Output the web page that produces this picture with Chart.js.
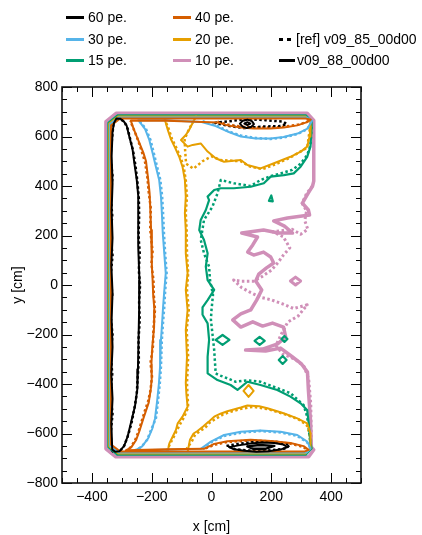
<!DOCTYPE html>
<html><head><meta charset="utf-8">
<script src="https://cdn.jsdelivr.net/npm/chart.js@4"></script>
<style>
html,body{margin:0;padding:0;background:#fff;}
#wrap{position:relative;width:422px;height:535px;}
canvas{position:absolute;left:0;top:0;}
.lg{position:absolute;font:14px "Liberation Sans",Arial,sans-serif;color:#000;line-height:16px;white-space:nowrap;}
.sw{position:absolute;}
</style></head><body>
<div id="wrap"><canvas id="c" width="422" height="535"></canvas><div id="legend"></div></div>
<script>
// ---------- axis ticks ----------
const xTicks = [-400,-200,0,200,400];
const yTicks = [-800,-600,-400,-200,0,200,400,600,800];
const levels = ['60 pe.','40 pe.','30 pe.','20 pe.','15 pe.','10 pe.'];
const versions = ['[ref] v09_85_00d00','v09_88_00d00'];

// ---------- v09_88_00d00 (solid) contours, [x cm, y cm] ----------
const c60_left = [[-332,-665],[-335,-560],[-331,-460],[-335,-360],[-331,-250],[-334,-140],[-331,-30],[-335,80],[-331,190],[-334,300],[-331,410],[-334,520],[-331,620],[-326,655],[-318,673],[-305,672],[-294,662],[-284,645],[-276,605],[-264,548],[-258,492],[-250,425],[-245,360],[-245,290],[-245,155],[-241,20],[-242,-100],[-244,-220],[-246,-340],[-248,-420],[-256,-490],[-270,-560],[-280,-610],[-292,-650],[-308,-672],[-322,-674],[-332,-665]];
const c60_top = [[95,652],[105,664],[120,668],[135,662],[142,650],[132,638],[118,634],[104,640],[95,652]];
const c60_topIn = [[110,652],[120,658],[130,652],[120,646],[110,652]];
const c60_bot = [[60,-655],[90,-648],[130,-640],[170,-636],[210,-638],[240,-645],[255,-655],[230,-665],[190,-672],[150,-674],[110,-670],[75,-664],[60,-655]];
const c60_botIn = [[120,-652],[160,-646],[210,-650],[180,-662],[140,-662],[120,-652]];

const c40_line = [[332,668],[315,656],[287,645],[242,636],[198,632],[142,632],[98,636],[53,645],[20,657],[-150,664],[-270,664],[-260,630],[-250,600],[-240,570],[-228,535],[-219,500],[-212,430],[-207,370],[-205,316],[-202,222],[-200,128],[-199,80],[-197,20],[-195,-40],[-191,-100],[-192,-170],[-198,-250],[-201,-320],[-200,-380],[-203,-420],[-210,-475],[-228,-540],[-241,-590],[-252,-626],[-268,-655],[-285,-668],[-150,-664],[-25,-662],[9,-642],[53,-631],[131,-625],[198,-630],[264,-638],[308,-651],[325,-666],[310,-673],[-305,-673],[-336,-645],[-336,645],[-305,673],[315,673],[332,668]];

const c30_line = [[336,664],[321,632],[288,612],[241,598],[198,592],[148,592],[98,600],[58,618],[14,642],[-36,659],[-150,666],[-245,666],[-222,630],[-208,586],[-197,533],[-186,478],[-175,424],[-169,357],[-166,291],[-163,210],[-158,129],[-153,48],[-158,-25],[-162,-90],[-165,-150],[-169,-222],[-172,-330],[-176,-400],[-182,-470],[-189,-540],[-198,-580],[-212,-620],[-232,-652],[-255,-668],[-150,-666],[-36,-662],[-2,-633],[42,-606],[98,-593],[164,-588],[231,-593],[287,-606],[320,-633],[331,-660],[318,-677],[-310,-677],[-339,-650],[-339,650],[-310,677],[318,677],[336,664]];

const c20_frame = [[331,600],[331,660],[314,681],[-312,681],[-342,652],[-342,-652],[-312,-681],[314,-681],[331,-660],[331,-600]];
const c20_left = [[-147,-676],[-141,-640],[-130,-613],[-119,-586],[-113,-559],[-97,-532],[-80,-492],[-84,-440],[-86,-396],[-82,-290],[-86,-182],[-80,-101],[-86,-20],[-80,48],[-86,128],[-86,222],[-89,290],[-86,357],[-89,424],[-97,478],[-108,518],[-122,555],[-136,590],[-147,630],[-158,676]];
const c20_top = [[-52,681],[-75,626],[-86,606],[-102,586],[-80,559],[-63,566],[-36,572],[-13,539],[14,512],[42,498],[98,505],[120,485],[164,471],[209,492],[264,518],[300,540],[320,559],[328,600],[331,640]];
const c20_bot = [[-80,-676],[-72,-625],[-60,-600],[-47,-590],[-28,-572],[-10,-553],[9,-532],[30,-520],[53,-510],[98,-495],[120,-487],[160,-490],[187,-498],[241,-518],[287,-539],[320,-559],[331,-599]];
const c20_diamond = [[107,-428],[124,-404],[141,-428],[124,-452],[107,-428]];

const c15_line = [[335,640],[331,559],[320,518],[298,478],[275,451],[242,444],[198,438],[175,411],[131,397],[75,391],[31,391],[9,384],[-13,357],[-8,343],[-19,303],[-36,263],[-41,222],[-25,182],[-13,128],[-19,74],[-13,20],[9,-20],[-13,-61],[-30,-90],[-30,-120],[-13,-155],[-8,-222],[-13,-290],[-13,-357],[20,-384],[64,-404],[87,-424],[120,-391],[164,-404],[220,-424],[264,-451],[298,-478],[320,-505],[325,-559],[331,-640],[335,-660],[316,-685],[-315,-685],[-345,-655],[-345,655],[-314,685],[316,685],[335,660],[335,640]];
const c15_d1 = [[14,-222],[37,-202],[60,-222],[37,-242],[14,-222]];
const c15_d2 = [[144,-226],[161,-210],[178,-226],[161,-242],[144,-226]];
const c15_d3 = [[234,-218],[244,-206],[254,-218],[244,-230],[234,-218]];
const c15_d4 = [[225,-303],[238,-287],[251,-303],[238,-319],[225,-303]];
const c15_tri = [[192,340],[200,362],[205,338],[192,340]];

const c10_line = [[338,400],[324,372],[304,331],[324,303],[328,283],[254,271],[208,259],[244,238],[271,210],[224,210],[174,222],[101,210],[154,194],[138,162],[121,133],[141,121],[174,133],[198,113],[208,89],[184,69],[158,44],[148,16],[168,-20],[151,-61],[131,-101],[98,-117],[71,-141],[98,-170],[138,-149],[171,-166],[204,-154],[241,-170],[248,-210],[221,-238],[171,-259],[114,-263],[181,-267],[231,-255],[271,-291],[301,-319],[321,-352],[324,-424],[331,-545],[334,-655],[342,-666],[325,-694],[-320,-694],[-353,-662],[-353,660],[-318,694],[320,694],[342,665],[342,420],[338,400]];
const c10_diamond = [[264,16],[281,32],[298,16],[281,0],[264,16]];

// ---------- [ref] v09_85_00d00 (dotted) contours ----------
const r60_left = [[-334,-668],[-337,-600],[-331,-520],[-338,-440],[-332,-360],[-337,-280],[-331,-200],[-338,-120],[-332,-40],[-337,40],[-331,120],[-338,200],[-332,280],[-337,360],[-331,440],[-338,520],[-332,600],[-328,650],[-318,676],[-303,670],[-290,656],[-280,630],[-272,590],[-262,540],[-254,480],[-248,420],[-243,350],[-242,280],[-244,200],[-240,130],[-243,60],[-239,0],[-242,-70],[-240,-140],[-244,-220],[-243,-300],[-247,-380],[-250,-440],[-258,-500],[-268,-560],[-281,-615],[-293,-652],[-308,-674],[-324,-678],[-334,-668]];
const r60_top = [[10,655],[60,662],[120,670],[180,666],[240,660],[252,650],[230,642],[170,640],[110,634],[60,642],[10,655]];
const r60_bot = [[50,-650],[100,-640],[160,-632],[220,-634],[262,-645],[250,-660],[200,-668],[140,-670],[80,-664],[50,-650]];
const r40_left = [[-288,-672],[-270,-655],[-256,-628],[-245,-595],[-236,-560],[-222,-505],[-212,-470],[-204,-425],[-199,-370],[-204,-315],[-196,-250],[-194,-175],[-189,-100],[-193,-40],[-194,20],[-201,85],[-197,135],[-205,225],[-203,310],[-210,375],[-214,430],[-222,495],[-232,535],[-243,575],[-252,605],[-262,635],[-272,664]];
const r40_top = [[20,660],[55,648],[100,640],[150,636],[200,636],[245,640],[290,648],[318,658],[332,668]];
const r40_bot = [[-20,-660],[12,-645],[55,-634],[130,-628],[200,-632],[265,-641],[306,-654],[322,-666]];
const r30_left = [[-258,-670],[-235,-655],[-215,-625],[-201,-582],[-186,-540],[-179,-470],[-173,-400],[-169,-330],[-166,-222],[-162,-150],[-158,-90],[-155,-25],[-150,48],[-155,129],[-159,210],[-162,291],[-165,357],[-171,424],[-182,478],[-193,533],[-204,586],[-219,630],[-242,664]];
const r30_top = [[-30,662],[14,646],[58,620],[98,604],[148,594],[198,590],[241,596],[288,610],[321,630],[336,664]];
const r30_bot = [[-30,-662],[-2,-636],[42,-610],[98,-597],[164,-590],[231,-596],[287,-610],[320,-636],[331,-660]];
const r20_left = [[-150,-672],[-140,-645],[-128,-618],[-117,-590],[-105,-562],[-92,-535],[-78,-495],[-80,-445],[-82,-398],[-78,-290],[-83,-182],[-76,-101],[-82,-20],[-78,48],[-82,128],[-83,222],[-86,290],[-82,357],[-86,424],[-93,478],[-104,518],[-118,555],[-132,590],[-143,630],[-155,665]];
const r20_top = [[-52,680],[-75,630],[-90,590],[-88,540],[-85,490],[-60,470],[-30,500],[0,520],[30,505],[98,500],[130,478],[170,468],[215,488],[264,515],[320,555],[330,640]];
const r20_bot = [[-85,-665],[-65,-630],[-55,-605],[-40,-592],[-20,-575],[-5,-555],[15,-540],[40,-522],[70,-510],[100,-500],[140,-492],[190,-502],[245,-522],[290,-542],[318,-565],[328,-600],[331,-650]];
const r15_line = [[335,640],[331,565],[320,525],[298,490],[270,465],[230,450],[198,440],[164,424],[131,400],[75,411],[31,424],[20,370],[3,316],[-25,263],[-36,182],[-25,128],[-8,74],[-5,20],[5,-40],[0,-101],[-2,-140],[3,-195],[9,-263],[14,-357],[25,-364],[53,-377],[81,-391],[120,-385],[164,-391],[208,-411],[264,-437],[308,-485],[320,-532],[331,-640]];
const r10_line = [[338,400],[318,370],[303,330],[318,300],[312,260],[322,225],[298,205],[270,225],[205,215],[240,195],[262,150],[240,120],[222,90],[200,60],[170,35],[140,15],[100,15],[74,20],[100,-10],[130,-30],[165,-50],[200,-60],[235,-75],[275,-95],[320,-80],[290,-125],[255,-150],[235,-195],[215,-245],[240,-280],[280,-300],[310,-330],[325,-380],[332,-480],[334,-650]];

// ---------- styling ----------
const COL = {60:'#000000',40:'#d55e00',30:'#56b4e9',20:'#e69f00',15:'#009e73',10:'#d08fb8'};
const DOT = [2.5,2.5];

function ds(pts, color, width, dashed){
  return {data: pts.map(p=>({x:p[0], y:p[1]})), showLine:true, borderColor:color, backgroundColor:color,
    borderWidth:width, borderDash: dashed?DOT:[], pointRadius:0, borderJoinStyle:'round', borderCapStyle: dashed?'butt':'round', fill:false, tension:0};
}
const datasets = [
  ds(c60_left,COL[60],2,false), ds(c60_top,COL[60],2,false), ds(c60_topIn,COL[60],2,false), ds(c60_bot,COL[60],2,false), ds(c60_botIn,COL[60],2.5,false),
  ds(c40_line,COL[40],2,false),
  ds(c30_line,COL[30],2,false),
  ds(c20_frame,COL[20],2,false), ds(c20_left,COL[20],2,false), ds(c20_top,COL[20],2,false), ds(c20_bot,COL[20],2,false), ds(c20_diamond,COL[20],2,false),
  ds(c15_line,COL[15],2.2,false), ds(c15_d1,COL[15],2.2,false), ds(c15_d2,COL[15],2.2,false), ds(c15_d3,COL[15],2.2,false), ds(c15_d4,COL[15],2.2,false), ds(c15_tri,COL[15],2.2,false),
  ds(r60_left,COL[60],2.5,true), ds(r60_top,COL[60],2.5,true), ds(r60_bot,COL[60],2.5,true),
  ds(r40_left,COL[40],2.5,true), ds(r40_top,COL[40],2.5,true), ds(r40_bot,COL[40],2.5,true),
  ds(r30_left,COL[30],2.5,true), ds(r30_top,COL[30],2.5,true), ds(r30_bot,COL[30],2.5,true),
  ds(r20_left,COL[20],2.5,true), ds(r20_top,COL[20],2.5,true), ds(r20_bot,COL[20],2.5,true),
  ds(r15_line,COL[15],2.5,true),
  ds(r10_line,COL[10],3,true),
  ds(c10_line,COL[10],3.5,false), ds(c10_diamond,COL[10],3,false)
];

const minus = v => (v<0 ? '\u2212'+Math.abs(v) : String(v));

const frameTicks = {
  id:'frameTicks',
  afterDatasetsDraw(chart){
    const {ctx, chartArea:a, scales:{x,y}} = chart;
    ctx.save();
    ctx.strokeStyle='#000'; ctx.lineWidth=1;
    ctx.beginPath();
    for(let v=-500; v<=500; v+=50){
      const px = Math.round(x.getPixelForValue(v))+0.5;
      const L = (v % 200 === 0) ? 10 : 5;
      ctx.moveTo(px,a.bottom); ctx.lineTo(px,a.bottom-L);
      ctx.moveTo(px,a.top); ctx.lineTo(px,a.top+L);
    }
    for(let v=-800; v<=800; v+=50){
      const py = Math.round(y.getPixelForValue(v))+0.5;
      const L = (v % 200 === 0) ? 10 : 5;
      ctx.moveTo(a.left,py); ctx.lineTo(a.left+L,py);
      ctx.moveTo(a.right,py); ctx.lineTo(a.right-L,py);
    }
    ctx.stroke();
    ctx.lineWidth=1.6; ctx.strokeStyle='#111';
    ctx.strokeRect(a.left,a.top,a.right-a.left,a.bottom-a.top);
    ctx.restore();
  }
};

Chart.defaults.font.family = '"Liberation Sans", Arial, sans-serif';
Chart.defaults.font.size = 14;
Chart.defaults.color = '#000';

new Chart(document.getElementById('c'), {
  type:'scatter',
  data:{datasets},
  options:{
    responsive:false, animation:false, devicePixelRatio:1,
    layout:{padding:{left:0,right:61,top:87,bottom:0}},
    plugins:{legend:{display:false}, tooltip:{enabled:false}},
    scales:{
      x:{type:'linear', min:-500, max:500,
         afterBuildTicks: s => { s.ticks = xTicks.map(v=>({value:v})); },
         afterFit: s => { s.height = 52; },
         grid:{display:false, drawTicks:false}, border:{display:false},
         ticks:{padding:6, callback: v => minus(v), maxRotation:0},
         title:{display:true, text:'x [cm]', padding:{top:0,bottom:-1}}},
      y:{type:'linear', min:-800, max:800,
         afterBuildTicks: s => { s.ticks = yTicks.map(v=>({value:v})); },
         afterFit: s => { s.width = 62; },
         grid:{display:false, drawTicks:false}, border:{display:false},
         ticks:{padding:4, callback: v => minus(v)},
         title:{display:true, text:'y [cm]', padding:{top:10,bottom:0}}}
    }
  },
  plugins:[frameTicks]
});

// ---------- legend (HTML text) ----------
const lg = document.getElementById('legend');
const slots = [
  {lab:levels[0], col:COL[60], lx:66, tx:88, cy:17},
  {lab:levels[1], col:COL[40], lx:173, tx:195, cy:17},
  {lab:levels[2], col:COL[30], lx:66, tx:88, cy:39},
  {lab:levels[3], col:COL[20], lx:173, tx:195, cy:39},
  {lab:levels[4], col:COL[15], lx:66, tx:88, cy:60},
  {lab:levels[5], col:COL[10], lx:173, tx:195, cy:60}
];
slots.forEach(s=>{
  const sw=document.createElement('div'); sw.className='sw';
  sw.style.cssText=`left:${s.lx}px;top:${s.cy-1.5}px;width:18px;height:3px;background:${s.col}`;
  lg.appendChild(sw);
  const t=document.createElement('div'); t.className='lg'; t.textContent=s.lab;
  t.style.left=s.tx+'px'; t.style.top=(s.cy-8)+'px'; lg.appendChild(t);
});
[[279,39],[287,39]].forEach(p=>{
  const d=document.createElement('div'); d.className='sw';
  d.style.cssText=`left:${p[0]}px;top:${p[1]-1.5}px;width:4px;height:3.5px;background:#000`;
  lg.appendChild(d);
});
const sl=document.createElement('div'); sl.className='sw';
sl.style.cssText='left:279px;top:58.5px;width:16px;height:3px;background:#000'; lg.appendChild(sl);
[[versions[0],296,39],[versions[1],297,60]].forEach(v=>{
  const t=document.createElement('div'); t.className='lg'; t.textContent=v[0];
  t.style.left=v[1]+'px'; t.style.top=(v[2]-8)+'px'; lg.appendChild(t);
});
</script>
</body></html>
